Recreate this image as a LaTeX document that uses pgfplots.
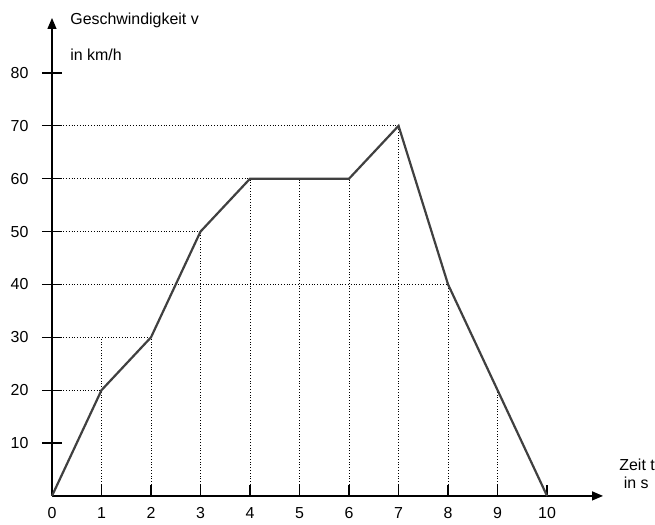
\documentclass[border=0pt]{standalone}
\usepackage{pgfplots}
\pgfplotsset{compat=1.18}
\usepackage{fontspec}
\setmainfont{Liberation Sans}
\usetikzlibrary{arrows.meta}
\begin{document}
\begin{tikzpicture}
\begin{axis}[
  scale only axis,
  width=551bp, height=477.9bp,
  xmin=0, xmax=11.13, ymin=0, ymax=90.4,
  axis lines=left,
  axis line style={line width=1.3bp, -{Triangle[length=11bp,width=9bp]}},
  xtick={0,1,...,10}, ytick={10,20,...,80},
  tick align=inside,
  major tick length=20bp,
  xtick style={line width=1.3bp, black, /pgfplots/major tick length=11bp},
  ytick style={line width=1.3bp, black, xshift=-10bp},
  /pgf/number format/assume math mode=true,
  tick label style={font=\fontsize{16}{18}\selectfont},
  xticklabel style={yshift=-8bp},
  yticklabel style={xshift=-20bp},
  clip=false,
]
\addplot[black, dotted, line width=0.8bp] coordinates {(0,20) (1,20)};
\addplot[black, dotted, line width=0.8bp] coordinates {(0,30) (2,30)};
\addplot[black, dotted, line width=0.8bp] coordinates {(0,40) (8,40)};
\addplot[black, dotted, line width=0.8bp] coordinates {(0,50) (3,50)};
\addplot[black, dotted, line width=0.8bp] coordinates {(0,60) (6,60)};
\addplot[black, dotted, line width=0.8bp] coordinates {(0,70) (7,70)};
\addplot[black, dotted, line width=0.8bp] coordinates {(1,0) (1,30)};
\addplot[black, dotted, line width=0.8bp] coordinates {(2,0) (2,30)};
\addplot[black, dotted, line width=0.8bp] coordinates {(3,0) (3,50)};
\addplot[black, dotted, line width=0.8bp] coordinates {(4,0) (4,60)};
\addplot[black, dotted, line width=0.8bp] coordinates {(5,0) (5,60)};
\addplot[black, dotted, line width=0.8bp] coordinates {(6,0) (6,60)};
\addplot[black, dotted, line width=0.8bp] coordinates {(7,0) (7,70)};
\addplot[black, dotted, line width=0.8bp] coordinates {(8,0) (8,40)};
\addplot[black, dotted, line width=0.8bp] coordinates {(9,0) (9,20)};
\addplot[color={rgb,255:red,64;green,64;blue,64}, line width=2.2bp, line join=miter] coordinates {
(0,0) (1,20) (2,30) (3,50) (4,60) (5,60) (6,60) (7,70) (8,40) (9,20) (10,0)};
\node[anchor=west, font=\fontsize{16}{18}\selectfont] at (axis cs:0.30,90.0) {Geschwindigkeit v};
\node[anchor=west, font=\fontsize{16}{18}\selectfont] at (axis cs:0.30,83.4) {in km/h};
\node[anchor=east, inner sep=0pt, font=\fontsize{16}{18}\selectfont] at (axis cs:12.18,5.85) {Zeit t};
\node[font=\fontsize{16}{18}\selectfont] at (axis cs:11.8,2.44) {in s};
\coordinate (bl) at (axis cs:-1.05,-5.32);
\coordinate (tr) at (axis cs:12.18,93.8);
\end{axis}
\pgfresetboundingbox
\path (bl) rectangle (tr);
\end{tikzpicture}
\end{document}
